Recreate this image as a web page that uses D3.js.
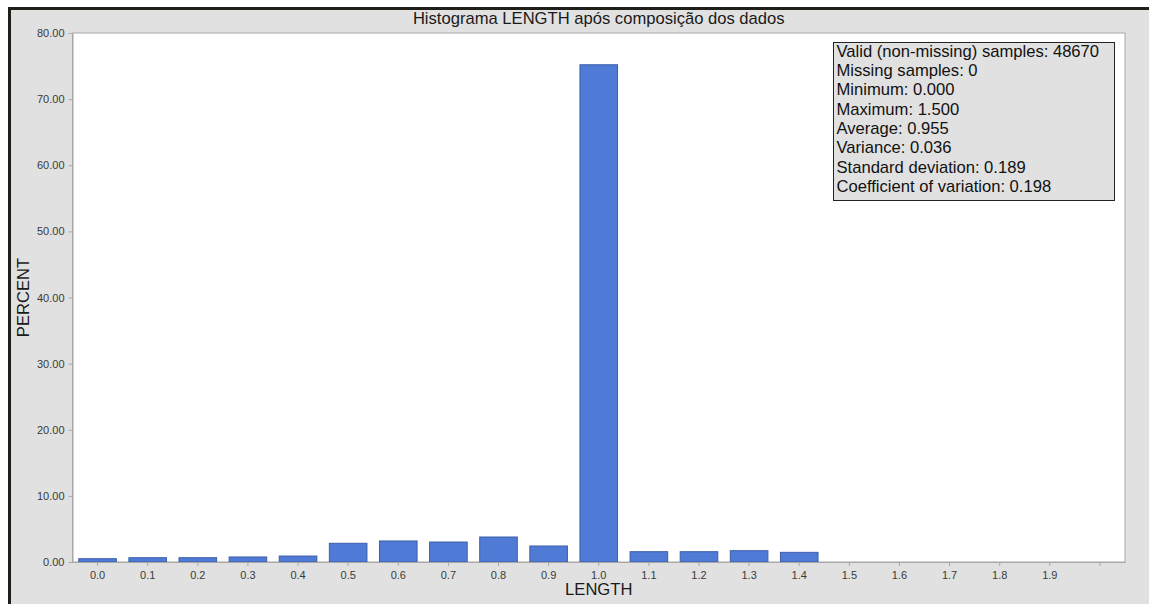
<!DOCTYPE html>
<html>
<head>
<meta charset="utf-8">
<script src="https://cdn.jsdelivr.net/npm/d3@7"></script>
<style>
  html, body { margin: 0; padding: 0; background: #ffffff; }
  svg { display: block; }
  text { font-family: "Liberation Sans", Arial, sans-serif; }
</style>
</head>
<body>
<svg id="chart" width="1149" height="604"></svg>
<script>
// Histogram bins (bin start values) and their share of samples, in percent
const bins = ["0.0","0.1","0.2","0.3","0.4","0.5","0.6","0.7","0.8","0.9",
              "1.0","1.1","1.2","1.3","1.4","1.5","1.6","1.7","1.8","1.9","2.0"];
const percents = [0.50, 0.65, 0.65, 0.76, 0.90, 2.83, 3.18, 3.02, 3.78, 2.42,
                  75.2, 1.56, 1.56, 1.71, 1.46, 0, 0, 0, 0, 0, 0];
// Labels written under the x ticks (the last tick stays unlabelled)
const xTickLabels = ["0.0","0.1","0.2","0.3","0.4","0.5","0.6","0.7","0.8","0.9",
                     "1.0","1.1","1.2","1.3","1.4","1.5","1.6","1.7","1.8","1.9"];
const yTicks = [0, 10, 20, 30, 40, 50, 60, 70, 80];
const yDomain = [0, 80];

// Summary statistics shown in the box
const statLines = [
  "Valid (non-missing) samples: 48670",
  "Missing samples: 0",
  "Minimum: 0.000",
  "Maximum: 1.500",
  "Average: 0.955",
  "Variance: 0.036",
  "Standard deviation: 0.189",
  "Coefficient of variation: 0.198"
];

const titleText = "Histograma LENGTH após composição dos dados";
const xTitle = "LENGTH";
const yTitle = "PERCENT";

const W = 1149, H = 604;
const plot = { left: 72.5, right: 1125, top: 33, bottom: 562 };

const svg = d3.select("#chart");

// Panel background and dark frame
svg.append("rect").attr("x", 8).attr("y", 7).attr("width", W - 8).attr("height", H - 7)
  .attr("fill", "#e1e1e1");
svg.append("rect").attr("x", 8).attr("y", 7).attr("width", W - 8).attr("height", 3)
  .attr("fill", "#1f1f18");
svg.append("rect").attr("x", 8).attr("y", 7).attr("width", 3).attr("height", H - 7)
  .attr("fill", "#1f1f18");

// Plot area
svg.append("rect")
  .attr("x", plot.left).attr("y", plot.top)
  .attr("width", plot.right - plot.left).attr("height", plot.bottom - plot.top)
  .attr("fill", "#ffffff").attr("stroke", "#a8a8a8").attr("stroke-width", 1);

const x = d3.scaleBand()
  .domain(bins)
  .range([plot.left, plot.right])
  .paddingInner(0.25)
  .paddingOuter(0.125);

const y = d3.scaleLinear().domain(yDomain).range([plot.bottom, plot.top]);

// Bars
svg.append("g").selectAll("rect")
  .data(bins.map((b, i) => ({ bin: b, value: percents[i] })).filter(d => d.value > 0))
  .join("rect")
  .attr("x", d => x(d.bin))
  .attr("y", d => y(d.value))
  .attr("width", x.bandwidth())
  .attr("height", d => y(0) - y(d.value))
  .attr("fill", "#4f7ad6")
  .attr("stroke", "#3d5ea8")
  .attr("stroke-width", 1);

// X axis
const xAxis = d3.axisBottom(x)
  .tickSize(4)
  .tickSizeOuter(0)
  .tickPadding(5)
  .tickFormat(d => xTickLabels.includes(d) ? d : "");
const gx = svg.append("g").attr("transform", `translate(0,${plot.bottom})`).call(xAxis);
gx.select(".domain").attr("stroke", "#a8a8a8");
gx.selectAll(".tick line").attr("stroke", "#a8a8a8");
gx.selectAll(".tick text").attr("fill", "#3a3a3a").attr("font-size", 11)
  .attr("font-family", "'Liberation Sans', Arial, sans-serif");

// Y axis
const yAxis = d3.axisLeft(y)
  .tickValues(yTicks)
  .tickSize(4)
  .tickSizeOuter(0)
  .tickPadding(4)
  .tickFormat(d3.format(".2f"));
const gy = svg.append("g").attr("transform", `translate(${plot.left},0)`).call(yAxis);
gy.select(".domain").attr("stroke", "#a8a8a8");
gy.selectAll(".tick line").attr("stroke", "#a8a8a8");
gy.selectAll(".tick text").attr("fill", "#3a3a3a").attr("font-size", 11)
  .attr("font-family", "'Liberation Sans', Arial, sans-serif");

// Titles
const cx = (plot.left + plot.right) / 2;
svg.append("text").attr("x", cx).attr("y", 24)
  .attr("text-anchor", "middle").attr("font-size", 16.6).attr("fill", "#1a1a1a")
  .text(titleText);
svg.append("text").attr("x", cx).attr("y", 595)
  .attr("text-anchor", "middle").attr("font-size", 16.6).attr("fill", "#1a1a1a")
  .text(xTitle);
svg.append("text")
  .attr("transform", `translate(29,${(plot.top + plot.bottom) / 2}) rotate(-90)`)
  .attr("text-anchor", "middle").attr("font-size", 16.6).attr("fill", "#1a1a1a")
  .text(yTitle);

// Statistics box
const box = svg.append("g").attr("transform", "translate(833,42)");
box.append("rect").attr("x", 0.5).attr("y", 0.5).attr("width", 281).attr("height", 158)
  .attr("fill", "#e1e1e1").attr("stroke", "#222222").attr("stroke-width", 1);
box.selectAll("text").data(statLines).join("text")
  .attr("x", 3.5)
  .attr("y", (d, i) => 14.7 + i * 19.3)
  .attr("font-size", 16.6)
  .attr("fill", "#111111")
  .text(d => d);
</script>
</body>
</html>
